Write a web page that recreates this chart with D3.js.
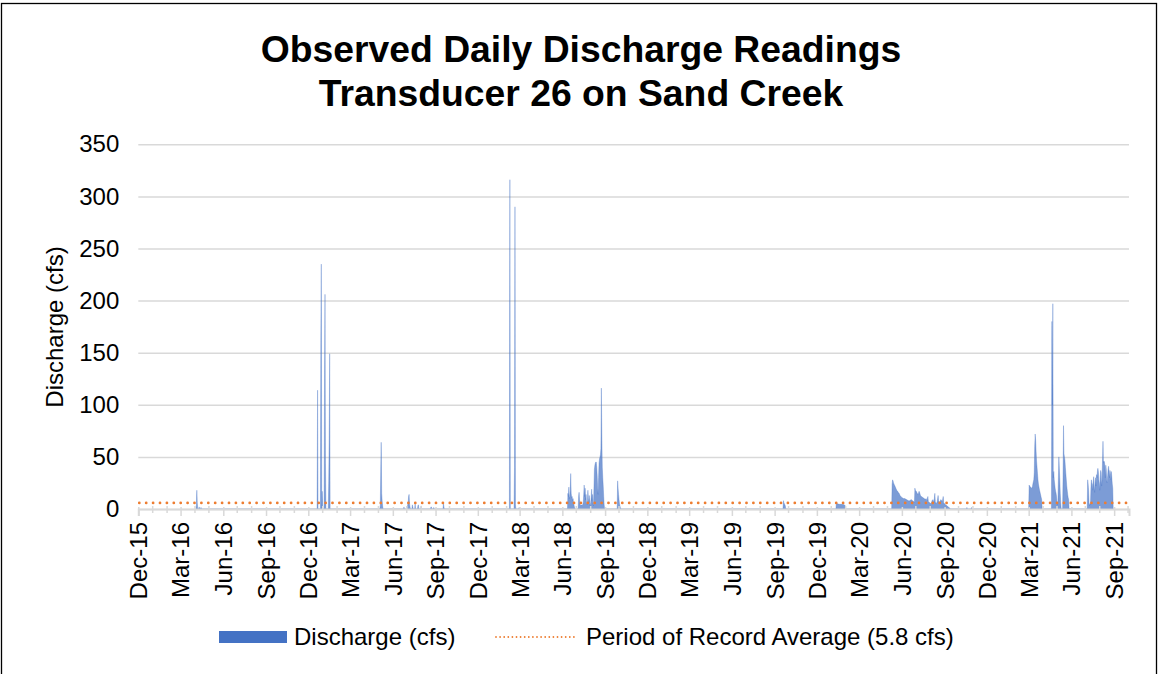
<!DOCTYPE html>
<html>
<head>
<meta charset="utf-8">
<script src="https://cdn.jsdelivr.net/npm/d3@7"></script>
<style>
body{margin:0;background:#fff}
svg{display:block;font-family:"Liberation Sans",Arial,sans-serif}
</style>
</head>
<body>
<svg width="1159" height="674"></svg>
<script>
// daily discharge readings (cfs), days not listed read 0
const flow2016=[["2016-04-03",0],["2016-04-04",3],["2016-04-05",18],["2016-04-06",6],["2016-04-07",0],["2016-04-09",0],["2016-04-10",2],["2016-04-11",0],["2016-04-13",0],["2016-04-14",1.5],["2016-04-15",0],
["2016-12-20",0],["2016-12-21",114],["2016-12-22",0],["2016-12-27",0],["2016-12-28",162],["2016-12-29",235],["2016-12-30",0],["2016-12-31",17],["2017-01-01",0]]
const flow2017=[["2017-01-04",0],["2017-01-05",129],["2017-01-06",206],["2017-01-07",44],["2017-01-08",0],
["2017-01-13",0],["2017-01-14",26],["2017-01-15",68],["2017-01-16",149],["2017-01-17",0],
["2017-05-04",0],["2017-05-05",3],["2017-05-06",38],["2017-05-07",64],["2017-05-08",15],["2017-05-09",8],["2017-05-10",3],["2017-05-11",0],
["2017-06-24",0],["2017-06-25",2],["2017-06-26",0],["2017-07-02",0],["2017-07-03",4],["2017-07-04",6],["2017-07-05",12],["2017-07-06",14],["2017-07-07",5],["2017-07-08",2],["2017-07-09",0],
["2017-07-12",0],["2017-07-13",4],["2017-07-14",2],["2017-07-15",0],["2017-07-18",0],["2017-07-19",5],["2017-07-20",0],["2017-07-24",0],["2017-07-25",3],["2017-07-26",4],["2017-07-27",0],
["2017-07-31",0],["2017-08-01",3],["2017-08-02",0],["2017-08-21",0],["2017-08-22",2],["2017-08-23",2],["2017-08-24",0],["2017-08-27",0],["2017-08-28",1.5],["2017-08-29",0],
["2017-09-17",0],["2017-09-18",5],["2017-09-19",2],["2017-09-20",0]]
const flow2018=[["2018-02-07",0],["2018-02-08",316],["2018-02-09",0],["2018-02-17",0],["2018-02-18",40],["2018-02-19",290],["2018-02-20",4],["2018-02-21",0],["2018-02-27",0],["2018-02-28",1.5],["2018-03-01",0],
["2018-06-12",0],["2018-06-13",15],["2018-06-14",12],["2018-06-15",21],["2018-06-16",10],["2018-06-17",12],["2018-06-18",18],["2018-06-19",34],["2018-06-20",15],["2018-06-21",11],["2018-06-22",12],["2018-06-23",8],["2018-06-24",10],["2018-06-25",6],["2018-06-26",4],["2018-06-27",2],["2018-06-28",0],
["2018-07-05",0],["2018-07-06",12],["2018-07-07",16],["2018-07-08",9],["2018-07-09",5],["2018-07-10",3],["2018-07-12",4],["2018-07-14",3],["2018-07-16",6],["2018-07-17",14],["2018-07-18",23],["2018-07-19",12],["2018-07-20",20],["2018-07-21",9],["2018-07-22",14],["2018-07-23",6],["2018-07-24",4],["2018-07-25",8],["2018-07-26",18],["2018-07-27",10],["2018-07-28",6],["2018-07-29",13],["2018-07-30",5],["2018-07-31",3],
["2018-08-01",6],["2018-08-02",11],["2018-08-03",19],["2018-08-04",8],["2018-08-05",14],["2018-08-06",5],["2018-08-07",3],["2018-08-08",20],["2018-08-09",38],["2018-08-10",42],["2018-08-11",44],["2018-08-12",45],["2018-08-13",45],["2018-08-14",40],["2018-08-15",32],["2018-08-16",20],["2018-08-17",14],["2018-08-18",30],["2018-08-19",44],["2018-08-20",48],["2018-08-21",50],["2018-08-22",52],["2018-08-23",58],["2018-08-24",116],["2018-08-25",69],["2018-08-26",40],["2018-08-27",30],["2018-08-28",22],["2018-08-29",12],["2018-08-30",4],["2018-08-31",0],
["2018-09-27",0],["2018-09-28",27],["2018-09-29",20],["2018-09-30",14],["2018-10-01",9],["2018-10-02",5],["2018-10-03",3],["2018-10-04",1],["2018-10-05",0]]
const flow2019=[["2019-09-19",0],["2019-09-20",8],["2019-09-21",6],["2019-09-22",5],["2019-09-23",4],["2019-09-24",3],["2019-09-25",0]]
const flow2020=[["2020-01-11",0],["2020-01-12",6],["2020-01-14",5],["2020-01-18",4.5],["2020-01-24",4.5],["2020-01-29",4],["2020-01-31",3],["2020-02-01",0],
["2020-05-10",0],["2020-05-11",24],["2020-05-12",28],["2020-05-13",27],["2020-05-14",25],["2020-05-15",24],["2020-05-16",23],["2020-05-17",22],["2020-05-18",21],["2020-05-19",20],["2020-05-20",19],["2020-05-21",18],["2020-05-22",17],["2020-05-23",17],["2020-05-24",16],["2020-05-26",15],["2020-05-28",13],["2020-05-30",12],
["2020-06-01",11],["2020-06-04",10],["2020-06-07",10],["2020-06-11",9],["2020-06-15",8],["2020-06-18",8],["2020-06-21",9],["2020-06-24",8],["2020-06-27",7],["2020-06-28",6],["2020-06-29",20],["2020-06-30",18],
["2020-07-01",17],["2020-07-02",17],["2020-07-04",15],["2020-07-06",14],["2020-07-08",17],["2020-07-09",16],["2020-07-11",13],["2020-07-13",12],["2020-07-16",11],["2020-07-19",10],["2020-07-22",9],["2020-07-23",10],["2020-07-25",8],["2020-07-27",12],["2020-07-28",7],["2020-07-31",6],
["2020-08-03",5],["2020-08-05",8],["2020-08-07",9],["2020-08-09",6],["2020-08-11",15],["2020-08-12",7],["2020-08-14",5],["2020-08-16",7],["2020-08-18",13],["2020-08-19",8],["2020-08-21",6],["2020-08-24",9],["2020-08-27",7],["2020-08-29",12],["2020-08-30",6],
["2020-09-01",5],["2020-09-03",4],["2020-09-06",3],["2020-09-09",2],["2020-09-12",1],["2020-09-13",0],
["2020-10-18",0],["2020-10-19",1.5],["2020-10-20",0],["2020-10-28",0],["2020-10-29",1.5],["2020-10-30",0]]
const flow2021=[["2021-03-01",0],["2021-03-02",23],["2021-03-03",22],["2021-03-05",21],["2021-03-07",20],["2021-03-09",21],["2021-03-10",24],["2021-03-12",28],["2021-03-13",35],["2021-03-14",60],["2021-03-15",72],["2021-03-16",66],["2021-03-17",55],["2021-03-18",46],["2021-03-19",40],["2021-03-20",34],["2021-03-21",28],["2021-03-22",24],["2021-03-24",19],["2021-03-26",15],["2021-03-28",11],["2021-03-29",9],["2021-03-30",0],
["2021-04-19",0],["2021-04-20",180],["2021-04-21",100],["2021-04-22",197],["2021-04-23",30],["2021-04-24",36],["2021-04-25",28],["2021-04-26",24],["2021-04-27",20],["2021-04-28",17],["2021-04-29",15],["2021-04-30",12],["2021-05-01",6],["2021-05-02",4],["2021-05-03",8],["2021-05-04",30],["2021-05-05",50],["2021-05-06",39],["2021-05-07",28],["2021-05-08",15],["2021-05-09",6],["2021-05-10",0],
["2021-05-13",0],["2021-05-14",30],["2021-05-15",80],["2021-05-16",53],["2021-05-17",50],["2021-05-18",47],["2021-05-19",40],["2021-05-20",34],["2021-05-21",28],["2021-05-22",22],["2021-05-23",18],["2021-05-24",14],["2021-05-25",11],["2021-05-26",9],["2021-05-27",0],
["2021-07-05",0],["2021-07-06",28],["2021-07-07",24],["2021-07-08",18],["2021-07-09",6],["2021-07-10",3],["2021-07-11",5],["2021-07-12",4],["2021-07-13",20],["2021-07-14",28],["2021-07-15",25],["2021-07-16",24],["2021-07-17",18],["2021-07-18",26],["2021-07-19",31],["2021-07-20",22],["2021-07-21",16],["2021-07-22",26],["2021-07-23",30],["2021-07-24",22],["2021-07-25",33],["2021-07-26",30],["2021-07-27",36],["2021-07-28",39],["2021-07-29",36],["2021-07-30",28],["2021-07-31",25],
["2021-08-01",18],["2021-08-02",30],["2021-08-03",37],["2021-08-04",35],["2021-08-05",22],["2021-08-06",28],["2021-08-07",47],["2021-08-08",65],["2021-08-09",44],["2021-08-10",46],["2021-08-11",45],["2021-08-12",42],["2021-08-13",30],["2021-08-14",42],["2021-08-15",38],["2021-08-16",28],["2021-08-17",25],["2021-08-18",32],["2021-08-19",38],["2021-08-20",41],["2021-08-21",36],["2021-08-22",30],["2021-08-23",37],["2021-08-24",34],["2021-08-25",28],["2021-08-26",36],["2021-08-27",30],["2021-08-28",24],["2021-08-29",20],["2021-08-30",0]]

const avgCfs=5.8
const axisStart="2015-12-01", axisEnd="2021-10-03"
const yTicks=[0,50,100,150,200,250,300,350]
const titleLines=["Observed Daily Discharge Readings","Transducer 26 on Sand Creek"]
const yTitle="Discharge (cfs)"
const legendLabels=["Discharge (cfs)","Period of Record Average (5.8 cfs)"]

const blue="#4472C4", orange="#ED7D31", grid="#d9d9d9"
const svg=d3.select("svg")
const parse=d3.utcParse("%Y-%m-%d")
const pts=[].concat(flow2016,flow2017,flow2018,flow2019,flow2020,flow2021)
  .map(d=>({date:parse(d[0]),v:d[1]})).sort((a,b)=>a.date-b.date)

const x=d3.scaleUtc().domain([parse(axisStart),parse(axisEnd)]).range([138.3,1129])
const y=d3.scaleLinear().domain([0,350]).range([509,144.3])

// outer frame
svg.append("rect").attr("x",1.5).attr("y",3.5).attr("width",1155).attr("height",700)
  .attr("fill","none").attr("stroke","#000").attr("stroke-width",1.3)

// title
svg.append("g").selectAll("text").data(titleLines).join("text")
  .attr("x",581).attr("y",(d,i)=>62+i*44).attr("text-anchor","middle")
  .attr("font-size",37.3).attr("font-weight","bold").text(d=>d)

// y axis + gridlines
const gy=svg.append("g").attr("transform",`translate(${x.range()[0]},0)`)
  .call(d3.axisLeft(y).tickValues(yTicks).tickSize(-(x.range()[1]-x.range()[0])).tickPadding(19))
gy.select(".domain").remove()
gy.selectAll("line").attr("stroke",grid).attr("stroke-width",1.5)
gy.selectAll("text").attr("font-size",24).attr("fill","#000").attr("font-family",null)

svg.append("text").attr("transform","translate(63,327) rotate(-90)").attr("text-anchor","middle")
  .attr("font-size",24).text(yTitle)

// discharge area
const area=d3.area().x(d=>x(d.date)).y0(y(0)).y1(d=>y(d.v))
svg.append("path").datum(pts).attr("d",area).attr("fill",blue).attr("fill-opacity",0.7)
  .attr("stroke",blue).attr("stroke-width",0.6).attr("stroke-opacity",0.55).attr("stroke-linejoin","round")

// x axis
const months=d3.utcMonth.range(x.domain()[0],x.domain()[1])
const major=months.filter(d=>d.getUTCMonth()%3===2)
const minor=months.filter(d=>d.getUTCMonth()%3!==2)
svg.append("g").selectAll("line").data(minor).join("line")
  .attr("x1",d=>x(d)).attr("x2",d=>x(d)).attr("y1",506).attr("y2",513)
  .attr("stroke",grid).attr("stroke-width",1.5)
const gx=svg.append("g").attr("transform",`translate(0,${y(0)})`)
  .call(d3.axisBottom(x).tickValues(major).tickFormat(d3.utcFormat("%b-%y")).tickSizeOuter(0).tickSize(7))
gx.select(".domain").attr("stroke",grid).attr("stroke-width",2)
gx.selectAll(".tick line").attr("stroke",grid).attr("stroke-width",1.5).attr("y1",-2)
gx.selectAll("text").attr("font-size",24).attr("fill","#000").attr("font-family",null)
  .attr("transform","rotate(-90)").attr("text-anchor","end").attr("x",-13).attr("y",0).attr("dy","0.35em")

// average line
const avgLine=d3.line().x(d=>x(d)).y(()=>y(avgCfs))
svg.append("path").datum(x.domain()).attr("d",avgLine).attr("fill","none")
  .attr("stroke",orange).attr("stroke-width",2.8).attr("stroke-linecap","round").attr("stroke-dasharray","0,6.9")
  .attr("transform","translate(1,0)")

// legend
const lg=svg.append("g")
lg.append("rect").attr("x",219).attr("y",631).attr("width",68).attr("height",12).attr("fill",blue)
lg.append("line").attr("x1",496).attr("x2",578).attr("y1",637).attr("y2",637)
  .attr("stroke",orange).attr("stroke-width",1.8).attr("stroke-linecap","round").attr("stroke-dasharray","0,4.1")
lg.selectAll("text").data(legendLabels).join("text")
  .attr("x",(d,i)=>[294,586][i]).attr("y",645).attr("font-size",24).text(d=>d)
</script>
</body>
</html>
